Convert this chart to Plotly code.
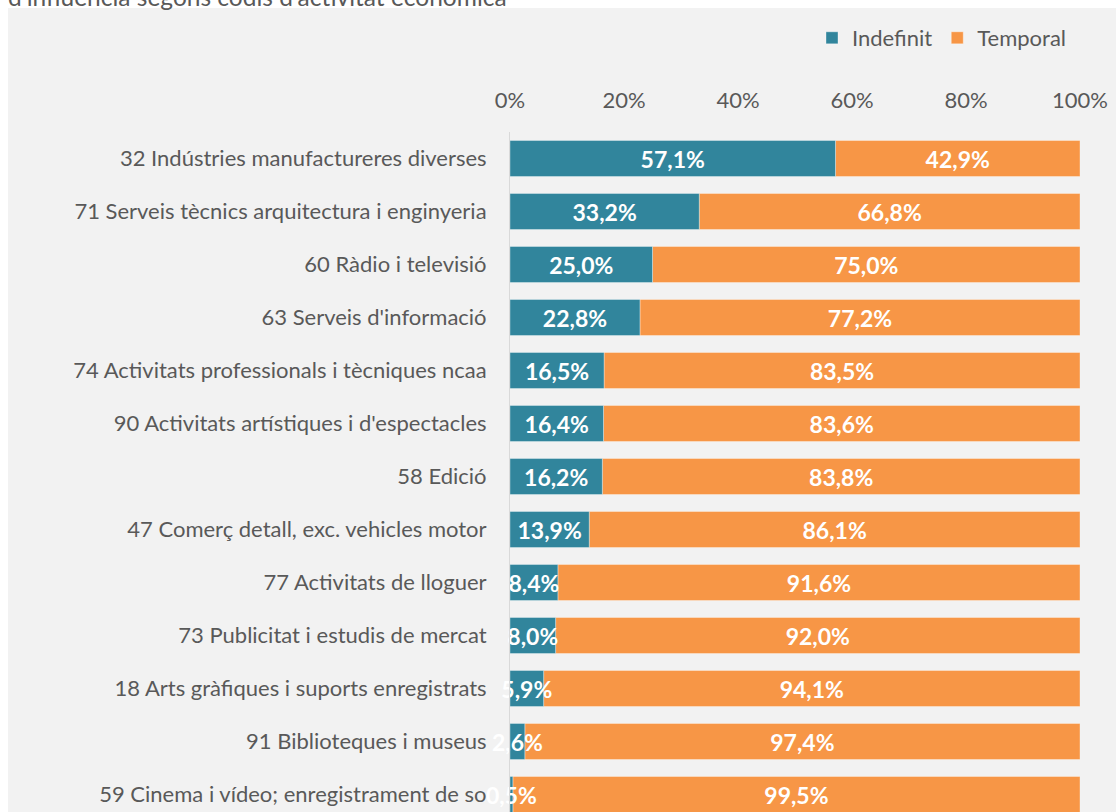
import plotly.graph_objects as go

categories = [
    "32 Indústries manufactureres diverses",
    "71 Serveis tècnics arquitectura i enginyeria",
    "60 Ràdio i televisió",
    "63 Serveis d'informació",
    "74 Activitats professionals i tècniques ncaa",
    "90 Activitats artístiques i d'espectacles",
    "58 Edició",
    "47 Comerç detall, exc. vehicles motor",
    "77 Activitats de lloguer",
    "73 Publicitat i estudis de mercat",
    "18 Arts gràfiques i suports enregistrats",
    "91 Biblioteques i museus",
    "59 Cinema i vídeo; enregistrament de so",
]
indefinit = [57.1, 33.2, 25.0, 22.8, 16.5, 16.4, 16.2, 13.9, 8.4, 8.0, 5.9, 2.6, 0.5]
temporal = [42.9, 66.8, 75.0, 77.2, 83.5, 83.6, 83.8, 86.1, 91.6, 92.0, 94.1, 97.4, 99.5]
title_text = "d'influència segons codis d'activitat econòmica"

TEAL = "#31859c"
ORANGE = "#f79646"
GRAY_TXT = "#595959"
BG = "#f2f2f2"
FONT = "Lato"

W, H = 1116, 812
L, R, T, B = 510, 36, 132, 0
PW, PH = W - L - R, H - T - B
BAND = 53.0


def fmt(v):
    return f"{v:.1f}".replace(".", ",") + "%"


def px_x(p):
    return (p - L) / PW


def px_y(p):
    return (H - B - p) / PH


label_font = dict(family=FONT, size=23, color="white", weight="bold")
bar_line = dict(color="rgba(255,255,255,0.35)", width=1)

fig = go.Figure()
# Temporal drawn first (stacked after Indefinit via base), so Indefinit labels sit on top
fig.add_trace(go.Bar(
    name="Temporal",
    y=categories,
    x=[v / 100 for v in temporal],
    base=[v / 100 for v in indefinit],
    orientation="h",
    marker=dict(color=ORANGE, line=bar_line),
    text=[fmt(v) for v in temporal],
    textposition="inside",
    insidetextanchor="middle",
    textangle=0,
    constraintext="none",
    cliponaxis=False,
    textfont=label_font,
    hoverinfo="skip",
))
fig.add_trace(go.Bar(
    name="Indefinit",
    y=categories,
    x=[v / 100 for v in indefinit],
    orientation="h",
    marker=dict(color=TEAL, line=bar_line),
    text=[fmt(v) for v in indefinit],
    textposition="inside",
    insidetextanchor="middle",
    textangle=0,
    constraintext="none",
    cliponaxis=False,
    textfont=label_font,
    hoverinfo="skip",
))

fig.update_layout(
    width=W, height=H,
    barmode="overlay",
    bargap=0.32,
    margin=dict(l=L, r=R, t=T, b=B, pad=0),
    paper_bgcolor="white",
    plot_bgcolor=BG,
    font=dict(family=FONT, size=22, color=GRAY_TXT),
    uniformtext=dict(minsize=23, mode="show"),
    legend=dict(
        orientation="h",
        x=px_x(1072), xanchor="right",
        y=px_y(38), yanchor="middle",
        bgcolor="rgba(0,0,0,0)",
        font=dict(family=FONT, size=22, color=GRAY_TXT),
        itemwidth=30,
        traceorder="reversed",
    ),
    xaxis=dict(
        range=[0, 1],
        side="top",
        tickformat=".0%",
        tickvals=[0, 0.2, 0.4, 0.6, 0.8, 1.0],
        showgrid=False,
        zeroline=False,
        showline=False,
        ticks="",
        ticklabelstandoff=19,
        tickfont=dict(family=FONT, size=22, color=GRAY_TXT),
    ),
    yaxis=dict(
        type="category",
        categoryorder="array",
        categoryarray=categories,
        range=[-0.5 + PH / BAND, -0.5],
        showgrid=False,
        zeroline=False,
        showline=True,
        linecolor="#d9d9d9",
        linewidth=1,
        ticks="",
        ticklabelstandoff=18,
        tickfont=dict(family=FONT, size=22, color=GRAY_TXT),
    ),
    shapes=[dict(
        type="rect", xref="paper", yref="paper",
        x0=px_x(8), x1=px_x(W + 2), y0=px_y(H + 2), y1=px_y(8),
        fillcolor=BG, line=dict(width=0), layer="below",
    )],
    annotations=[dict(
        text=title_text, xref="paper", yref="paper",
        x=px_x(6), xanchor="left", y=px_y(13), yanchor="bottom",
        showarrow=False, font=dict(family=FONT, size=24.5, color=GRAY_TXT),
    )],
)

fig.write_html(
    "out.html",
    config={"displayModeBar": False},
    post_script="document.body.style.margin='0';",
)
